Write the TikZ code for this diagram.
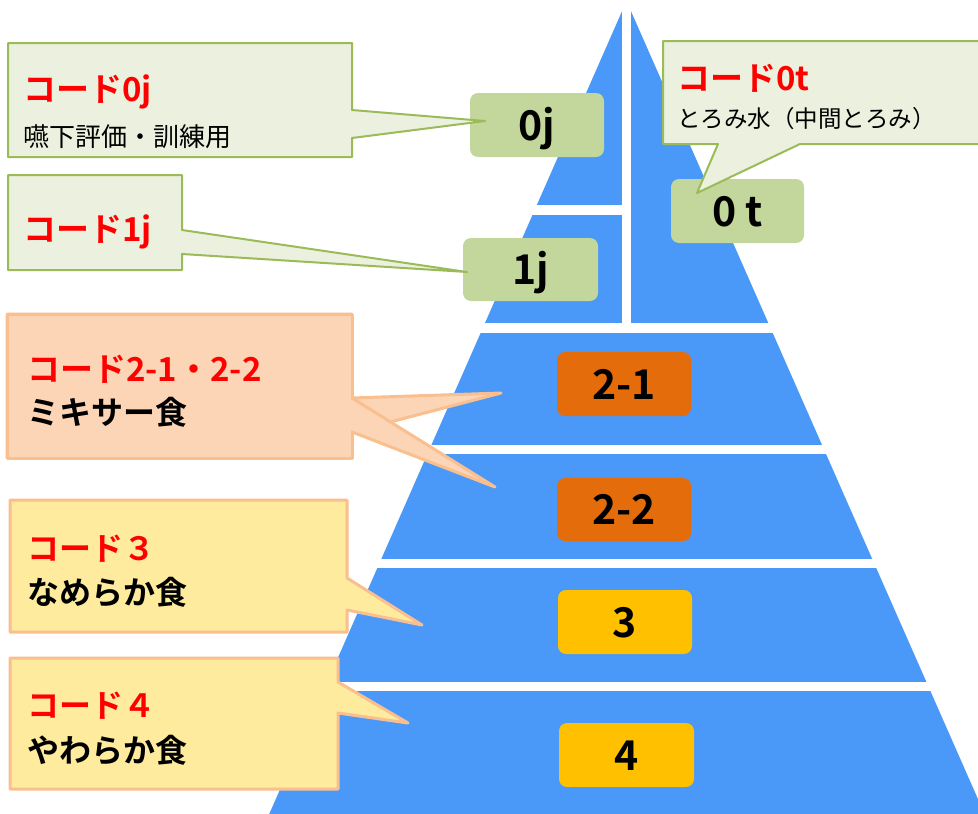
\documentclass[tikz,border=0pt]{standalone}
\usepackage{fontspec}
\setmainfont{Noto Sans CJK JP}[BoldFont={Noto Sans CJK JP Bold}]
\definecolor{pblue}{RGB}{74,152,247}
\definecolor{boxgreen}{RGB}{195,214,155}
\definecolor{boxorange}{RGB}{228,108,10}
\definecolor{boxyellow}{RGB}{255,192,0}
\definecolor{cgreen}{RGB}{235,241,222}
\definecolor{cgreenb}{RGB}{155,187,89}
\definecolor{corange}{RGB}{251,213,181}
\definecolor{corangeb}{RGB}{250,191,143}
\definecolor{cyellow}{RGB}{254,235,158}
\tikzset{
  lbl/.style={rounded corners=8pt, minimum width=134pt, minimum height=64pt, inner sep=0pt,
    font=\bfseries\fontsize{41}{41}\selectfont, text height=30pt, text depth=0pt},
  gl/.style={lbl, fill=boxgreen},
  ol/.style={lbl, fill=boxorange},
  yl/.style={lbl, fill=boxyellow},
  ttl/.style={anchor=base west, inner sep=0pt, text=red, font=\bfseries\fontsize{33}{33}\selectfont},
  sub/.style={anchor=base west, inner sep=0pt, font=\fontsize{26}{26}\selectfont},
  subb/.style={anchor=base west, inner sep=0pt, font=\bfseries\fontsize{32}{32}\selectfont},
  gcall/.style={fill=cgreen, draw=cgreenb, line width=2pt, line join=round},
  ocall/.style={fill=corange, draw=corangeb, line width=3pt, line join=round},
  ycall/.style={fill=cyellow, draw=corangeb, line width=3pt, line join=round},
}
\begin{document}
\begin{tikzpicture}[x=1pt,y=-1pt]
\useasboundingbox (0,0) rectangle (978,814);
\begin{scope}
  \clip (0,0) rectangle (978,814);
  % pyramid
  \fill[pblue] (626.5,1) -- (268.8,815) -- (985,815) -- cycle;
  % white separators
  \fill[white] (622,0) rectangle (631,333);
  \fill[white] (0,205) rectangle (626,215);
  \fill[white] (0,323) rectangle (978,333);
  \fill[white] (0,445) rectangle (978,454);
  \fill[white] (0,559) rectangle (978,568);
  \fill[white] (0,682) rectangle (978,691);
  % level boxes
  \node[gl, minimum width=134pt] (b0j) at (537,125) {0j};
  \node[gl, minimum width=135pt, minimum height=63pt] (b1j) at (530.5,269.5) {1j};
  \node[gl, minimum width=133pt] (b0t) at (737.5,211) {0 t};
  \node[ol] (b21) at (624,384) {2-1};
  \node[ol, minimum height=63pt] (b22) at (624,509.5) {2-2};
  \node[yl] (b3) at (625,622) {3};
  \node[yl, minimum width=135pt] (b4) at (626.5,755) {4};
  % callouts
  \draw[gcall] (8,43) -- (352,43) -- (352,110) -- (485,121) -- (352,138) -- (352,157) -- (8,157) -- cycle;
  \draw[gcall] (8,175) -- (182,175) -- (182,230) -- (467,272) -- (182,254) -- (182,270) -- (8,270) -- cycle;
  \draw[gcall] (663,41) -- (995,41) -- (995,144) -- (800,144) -- (697,193) -- (718,144) -- (663,144) -- cycle;
  \draw[ocall] (7,314) -- (352,314) -- (352,398) -- (501,393) -- (352,432) -- (352,458) -- (7,458) -- cycle;
  \draw[ocall] (352,398) -- (495,487) -- (352,432);
  \fill[corange] (7,314) rectangle (350.5,458);
  \draw[corangeb, line width=3pt, line join=round] (352,398) -- (352,314) -- (7,314) -- (7,458) -- (352,458) -- (352,432);
  \draw[ycall] (10,500) -- (347,500) -- (347,578) -- (422,625) -- (347,610) -- (347,632) -- (10,632) -- cycle;
  \draw[ycall] (10,658) -- (338,658) -- (338,682) -- (408,723) -- (338,713) -- (338,789) -- (10,789) -- cycle;
\end{scope}
% callout texts
\node[ttl] (t0j) at (23,101) {コード0j};
\node[sub] (s0j) at (23,146) {嚥下評価・訓練用};
\node[ttl] (t1j) at (23,241) {コード1j};
\node[ttl] (t0t) at (677,90) {コード0t};
\node[sub, font=\fontsize{23.5}{23.5}\selectfont] (s0t) at (677,127) {とろみ水（中間とろみ）};
\node[ttl, font=\bfseries\fontsize{33}{33}\selectfont] (t2) at (27,381) {コード2-1・2-2};
\node[subb] (s2) at (27,424) {ミキサー食};
\node[ttl, font=\bfseries\fontsize{32}{32}\selectfont] (t3) at (27,560) {コード３};
\node[subb] (s3) at (27,604) {なめらか食};
\node[ttl, font=\bfseries\fontsize{32}{32}\selectfont] (t4) at (27,717) {コード４};
\node[subb] (s4) at (27,762) {やわらか食};
\end{tikzpicture}
\end{document}
